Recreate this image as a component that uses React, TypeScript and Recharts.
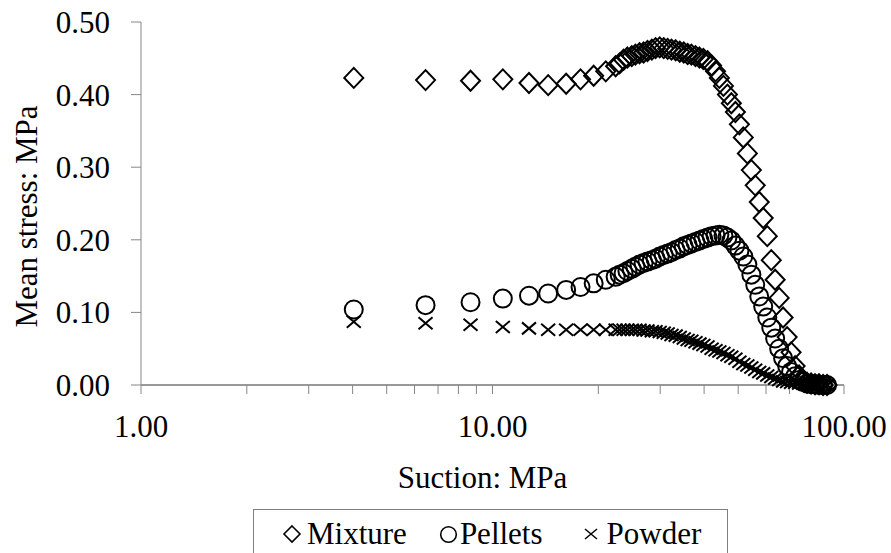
import React from "react";
import { ScatterChart, Scatter, XAxis, YAxis, Legend } from "recharts";

const FONT = "'Liberation Serif', 'Times New Roman', serif";

// suction steps (MPa), shared by the three samples
const suction = [
  4.03, 6.45, 8.66, 10.7, 12.7, 14.4, 16.2, 17.8, 19.4, 21.0, 22.4,
  23.0, 23.6, 24.2, 24.9, 25.5, 26.2, 26.9, 27.6, 28.4, 29.1,
  29.9, 30.7, 31.5, 32.3, 33.2, 34.1, 35.0, 35.9, 36.8, 37.8,
  38.8, 39.8, 40.9, 42.0, 43.1, 44.2, 45.4, 46.6, 47.8, 49.1,
  50.4, 51.7, 53.1, 54.5, 55.9, 57.4, 58.9, 60.5, 62.1, 63.7,
  65.4, 67.1, 68.9, 70.7, 72.6, 74.5, 76.5, 78.5, 80.6, 82.7,
  84.9, 87.2, 89.5,
];

const mixture = [
  0.423, 0.42, 0.419, 0.421, 0.416, 0.413, 0.415, 0.421, 0.426, 0.432, 0.439,
  0.443, 0.448, 0.451, 0.453, 0.455, 0.457, 0.458, 0.46, 0.462, 0.464,
  0.465, 0.464, 0.463, 0.462, 0.461, 0.459, 0.458, 0.456, 0.455, 0.453,
  0.451, 0.449, 0.446, 0.44, 0.432, 0.423, 0.412, 0.4, 0.388, 0.376,
  0.359, 0.341, 0.319, 0.296, 0.275, 0.252, 0.23, 0.205, 0.172, 0.145,
  0.12, 0.093, 0.066, 0.045, 0.026, 0.013, 0.006, 0.003, 0.002, 0.001,
  0.001, 0.0, 0.0,
];

const pellets = [
  0.104, 0.11, 0.114, 0.119, 0.123, 0.126, 0.131, 0.135, 0.14, 0.145, 0.149,
  0.152, 0.154, 0.157, 0.16, 0.163, 0.166, 0.168, 0.17, 0.172, 0.174,
  0.177, 0.179, 0.181, 0.183, 0.186, 0.188, 0.191, 0.193, 0.195, 0.197,
  0.199, 0.201, 0.203, 0.205, 0.206, 0.207, 0.206, 0.203, 0.199, 0.192,
  0.185, 0.177, 0.166, 0.152, 0.138, 0.122, 0.108, 0.093, 0.079, 0.064,
  0.05, 0.037, 0.026, 0.018, 0.012, 0.007, 0.004, 0.002, 0.001, 0.001,
  0.0, 0.0, 0.0,
];

const powder = [
  0.087, 0.085, 0.083, 0.08, 0.078, 0.076, 0.076, 0.076, 0.076, 0.076, 0.076,
  0.076, 0.076, 0.076, 0.076, 0.076, 0.076, 0.075, 0.075, 0.074, 0.074,
  0.073, 0.072, 0.071, 0.069, 0.068, 0.066, 0.064, 0.062, 0.061, 0.059,
  0.057, 0.055, 0.053, 0.05, 0.048, 0.046, 0.044, 0.041, 0.039, 0.036,
  0.032, 0.029, 0.027, 0.024, 0.021, 0.018, 0.016, 0.013, 0.011, 0.009,
  0.007, 0.005, 0.004, 0.003, 0.003, 0.002, 0.002, 0.001, 0.001, 0.0,
  0.0, 0.0, 0.0,
];

const xTicks = [1, 2, 3, 4, 5, 6, 7, 8, 9, 10, 20, 30, 40, 50, 60, 70, 80, 90, 100];
const xLabels = [1, 10, 100];
const yTicks = [0, 0.1, 0.2, 0.3, 0.4, 0.5];

const toPoints = (values: number[]) => suction.map((x, i) => ({ x, y: values[i] }));

const DiamondDot = (p: any) => (
  <path
    d={`M${p.cx},${p.cy - 10}L${p.cx + 9.5},${p.cy}L${p.cx},${p.cy + 10}L${p.cx - 9.5},${p.cy}Z`}
    fill="none"
    stroke="#000"
    strokeWidth={2}
  />
);

const CircleDot = (p: any) => (
  <circle cx={p.cx} cy={p.cy} r={9} fill="none" stroke="#000" strokeWidth={2} />
);

const CrossDot = (p: any) => (
  <path
    d={`M${p.cx - 7},${p.cy - 6}L${p.cx + 7},${p.cy + 6}M${p.cx - 7},${p.cy + 6}L${p.cx + 7},${p.cy - 6}`}
    fill="none"
    stroke="#000"
    strokeWidth={2}
  />
);

// legend box runs past the bottom edge, as in the original export
const LegendBox = () => (
  <div
    style={{
      height: 47,
      boxSizing: "border-box",
      border: "1px solid #7f7f7f",
      fontFamily: FONT,
      fontSize: 31,
      lineHeight: "34px",
      color: "#000",
      display: "flex",
      alignItems: "flex-start",
      paddingTop: 7,
      paddingLeft: 28,
    }}
  >
    <div style={{ display: "flex", alignItems: "center", height: 34 }}>
      <svg width={20} height={20} style={{ marginRight: 5 }}>
        <path d="M10,2L18,10L10,18L2,10Z" fill="none" stroke="#000" strokeWidth={1.6} />
      </svg>
      <span style={{ marginRight: 32 }}>Mixture</span>
      <svg width={19} height={19} style={{ marginRight: 2 }}>
        <circle cx={9.5} cy={9.5} r={7.8} fill="none" stroke="#000" strokeWidth={1.6} />
      </svg>
      <span style={{ marginRight: 40 }}>Pellets</span>
      <svg width={16} height={16} style={{ marginRight: 8 }}>
        <path d="M2,3L14,13M2,13L14,3" fill="none" stroke="#000" strokeWidth={1.5} />
      </svg>
      <span>Powder</span>
    </div>
  </div>
);

export default function App() {
  const tickStyle = { fontSize: 31, fill: "#000", fontFamily: FONT };
  return (
    <div style={{ position: "absolute", left: 0, top: 0, width: 891, height: 553, background: "#fff", overflow: "hidden" }}>
      <ScatterChart
        width={891}
        height={553}
        margin={{ top: 22, right: 47, bottom: 0, left: 0 }}
        style={{ fontFamily: FONT }}
      >
        <XAxis
          type="number"
          dataKey="x"
          scale="log"
          domain={[1, 100]}
          ticks={xTicks}
          interval={0}
          allowDataOverflow
          tickFormatter={(v: number) => (xLabels.includes(v) ? v.toFixed(2) : "")}
          height={121}
          tickSize={9}
          tickMargin={21}
          tick={tickStyle}
          axisLine={{ stroke: "#333" }}
          tickLine={{ stroke: "#868686" }}
          label={{
            content: (props: any) => {
              const vb = props.viewBox;
              return (
                <text
                  x={vb.x + vb.width / 2 - 10}
                  y={vb.y + 103}
                  textAnchor="middle"
                  fontSize={31}
                  fontFamily={FONT}
                  fill="#000"
                >
                  Suction: MPa
                </text>
              );
            },
          }}
        />
        <YAxis
          type="number"
          dataKey="y"
          domain={[0, 0.5]}
          ticks={yTicks}
          interval={0}
          tickFormatter={(v: number) => v.toFixed(2)}
          width={141}
          tickSize={10}
          tickMargin={21}
          tick={tickStyle}
          axisLine={{ stroke: "#868686" }}
          tickLine={{ stroke: "#868686" }}
          label={{
            content: (props: any) => {
              const vb = props.viewBox;
              const cx = vb.x + 37;
              const cy = vb.y + vb.height / 2 + 13;
              return (
                <text
                  x={cx}
                  y={cy}
                  transform={`rotate(-90, ${cx}, ${cy})`}
                  textAnchor="middle"
                  fontSize={31}
                  fontFamily={FONT}
                  fill="#000"
                >
                  Mean stress: MPa
                </text>
              );
            },
          }}
        />
        <Legend
          verticalAlign="bottom"
          content={() => <LegendBox />}
          wrapperStyle={{ left: 253, width: 475, bottom: -3 }}
        />
        <Scatter name="Mixture" data={toPoints(mixture)} shape={DiamondDot} isAnimationActive={false} />
        <Scatter name="Pellets" data={toPoints(pellets)} shape={CircleDot} isAnimationActive={false} />
        <Scatter name="Powder" data={toPoints(powder)} shape={CrossDot} isAnimationActive={false} />
      </ScatterChart>
    </div>
  );
}
